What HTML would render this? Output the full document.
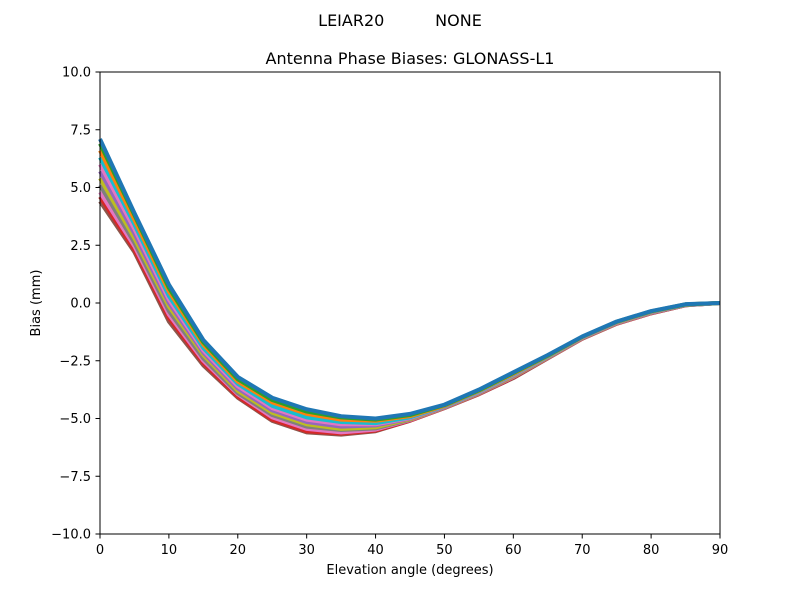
<!DOCTYPE html>
<html><head><meta charset="utf-8"><style>
body{margin:0;background:#fff}
svg text{font-family:"DejaVu Sans","Liberation Sans",sans-serif;fill:#000}
</style></head><body>
<svg id="chart" width="800" height="600" viewBox="0 0 800 600" xmlns="http://www.w3.org/2000/svg">
<rect width="800" height="600" fill="#fff"/>
<text x="400" y="26" text-anchor="middle" font-size="16" xml:space="preserve">LEIAR20          NONE</text>
<text x="410" y="64" text-anchor="middle" font-size="16">Antenna Phase Biases: GLONASS-L1</text>
<g id="plot"></g>
<rect x="100" y="72" width="620" height="462" fill="none" stroke="#000" stroke-width="1"/>
<g id="xt"></g>
<g id="yt"></g>
<text x="410" y="574" text-anchor="middle" font-size="13">Elevation angle (degrees)</text>
<text transform="translate(40,303) rotate(-90)" text-anchor="middle" font-size="13">Bias (mm)</text>
</svg>
<script>
const elevations=[0,5,10,15,20,25,30,35,40,45,50,55,60,65,70,75,80,85,90];
const xTicks=[0,10,20,30,40,50,60,70,80,90];
const yTicks=[10,7.5,5,2.5,0,-2.5,-5,-7.5,-10];
const yTickLabels=["10.0","7.5","5.0","2.5","0.0","\u22122.5","\u22125.0","\u22127.5","\u221210.0"];
const s0=[7.1,3.9,0.8,-1.6,-3.2,-4.1,-4.6,-4.9,-5.0,-4.8,-4.4,-3.75,-3.0,-2.25,-1.45,-0.8,-0.35,-0.05,0];
const s1=[6.9,3.8,0.65,-1.7,-3.3,-4.2,-4.7,-4.95,-5.05,-4.85,-4.42,-3.78,-3.03,-2.27,-1.46,-0.81,-0.36,-0.06,0];
const s2=[6.6,3.6,0.5,-1.8,-3.4,-4.3,-4.8,-5.05,-5.1,-4.9,-4.45,-3.8,-3.06,-2.29,-1.47,-0.82,-0.37,-0.06,0];
const s3=[6.3,3.4,0.3,-1.95,-3.5,-4.45,-4.95,-5.15,-5.2,-4.95,-4.47,-3.83,-3.09,-2.31,-1.48,-0.83,-0.38,-0.07,0];
const s4=[6.0,3.2,0.15,-2.05,-3.6,-4.55,-5.05,-5.25,-5.25,-4.98,-4.48,-3.85,-3.11,-2.32,-1.49,-0.84,-0.39,-0.07,0];
const s5=[5.7,3.0,0.0,-2.15,-3.7,-4.65,-5.15,-5.35,-5.3,-5.0,-4.5,-3.87,-3.13,-2.33,-1.5,-0.85,-0.4,-0.08,0];
const s6=[5.4,2.8,-0.15,-2.25,-3.8,-4.75,-5.25,-5.45,-5.38,-5.03,-4.51,-3.89,-3.16,-2.35,-1.51,-0.86,-0.41,-0.08,0];
const s7=[5.1,2.6,-0.35,-2.4,-3.9,-4.85,-5.35,-5.5,-5.43,-5.05,-4.52,-3.91,-3.18,-2.36,-1.52,-0.87,-0.42,-0.09,0];
const s8=[4.8,2.45,-0.5,-2.5,-3.95,-4.95,-5.45,-5.6,-5.48,-5.07,-4.53,-3.92,-3.2,-2.37,-1.53,-0.88,-0.43,-0.09,0];
const s9=[4.6,2.3,-0.65,-2.6,-4.05,-5.05,-5.55,-5.65,-5.52,-5.09,-4.54,-3.94,-3.22,-2.38,-1.54,-0.89,-0.44,-0.1,0];
const s10=[4.4,2.2,-0.8,-2.7,-4.1,-5.1,-5.6,-5.7,-5.55,-5.1,-4.55,-3.95,-3.25,-2.4,-1.55,-0.9,-0.45,-0.1,0];
const series=[s10,s9,s8,s7,s6,s5,s4,s3,s2,s1,s0];
const colors=["#8c564b","#d62728","#e377c2","#7f7f7f","#bcbd22","#9467bd","#e377c2","#17becf","#ff7f0e","#2ca02c","#1f77b4"];
const NS="http://www.w3.org/2000/svg";
const X=v=>100+v/90*620, Y=v=>303-v*23.1;
const plot=document.getElementById('plot');
series.forEach((s,i)=>{
  const p=document.createElementNS(NS,'polyline');
  
  
  p.setAttribute('points',s.map((v,j)=>X(elevations[j])+','+Y(v)).join(' '));
  p.setAttribute('fill','none');p.setAttribute('stroke',colors[i%colors.length]);
  p.setAttribute('stroke-width','4');p.setAttribute('stroke-linejoin','round');
  plot.appendChild(p);
});
const xt=document.getElementById('xt');
xTicks.forEach(t=>{
  const l=document.createElementNS(NS,'line');
  
  
  l.setAttribute('x1',X(t));l.setAttribute('x2',X(t));l.setAttribute('y1',534);l.setAttribute('y2',538.5);l.setAttribute('stroke','#000');
  xt.appendChild(l);
  const tx=document.createElementNS(NS,'text');
  
  
  tx.setAttribute('x',X(t));tx.setAttribute('y',554);tx.setAttribute('text-anchor','middle');tx.setAttribute('font-size','13');
  tx.textContent=t;xt.appendChild(tx);
});
const yt=document.getElementById('yt');
yTicks.forEach((t,i)=>{
  const l=document.createElementNS(NS,'line');
  
  
  l.setAttribute('x1',95.5);l.setAttribute('x2',100);l.setAttribute('y1',Y(t));l.setAttribute('y2',Y(t));l.setAttribute('stroke','#000');
  yt.appendChild(l);
  const tx=document.createElementNS(NS,'text');
  
  
  tx.setAttribute('x',91);tx.setAttribute('y',Y(t)+4.5);tx.setAttribute('text-anchor','end');tx.setAttribute('font-size','13');
  tx.textContent=yTickLabels[i];yt.appendChild(tx);
});
</script>
</body></html>
